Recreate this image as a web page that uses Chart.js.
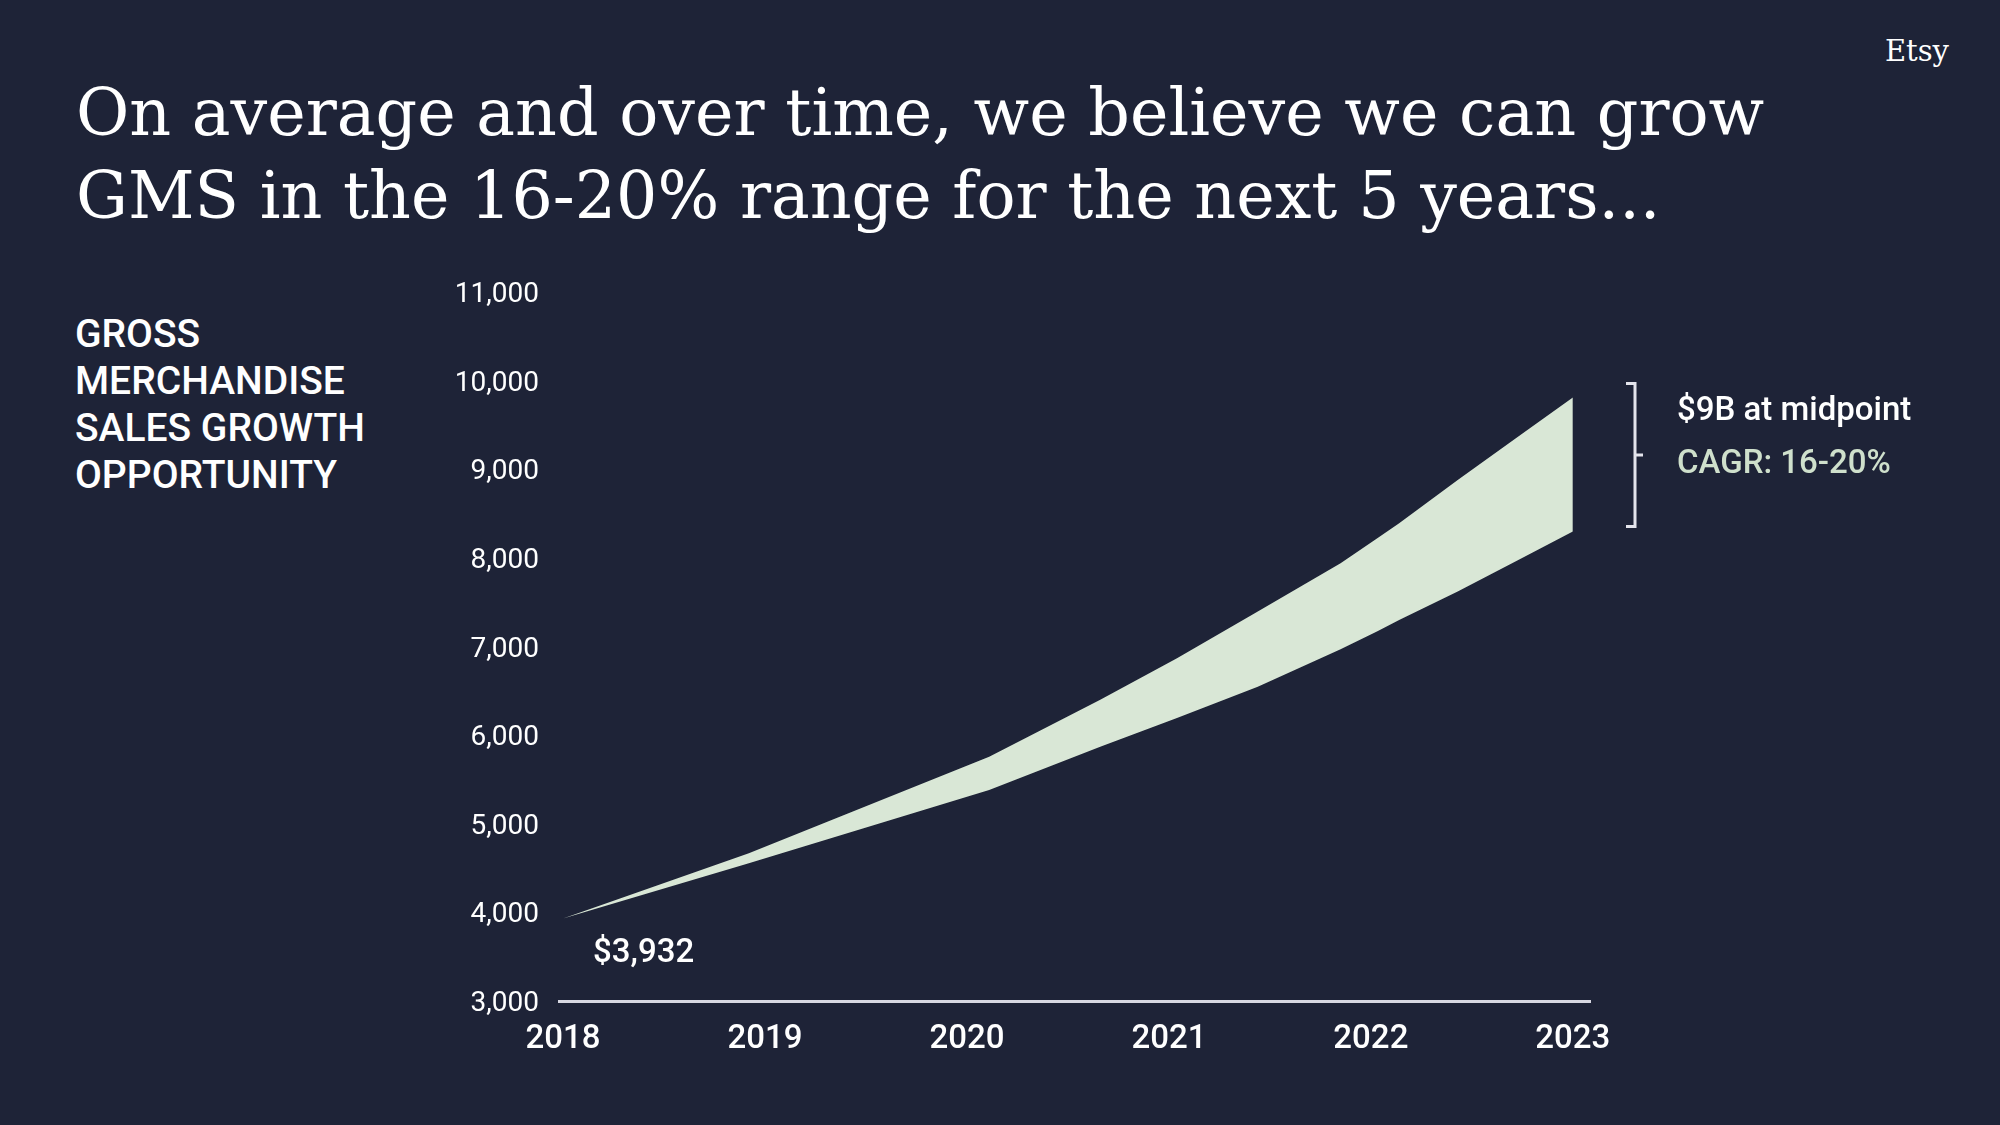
<!DOCTYPE html>
<html>
<head>
<meta charset="utf-8">
<script src="https://cdn.jsdelivr.net/npm/chart.js@4.4.1/dist/chart.umd.min.js"></script>
<style>
  html, body { margin: 0; padding: 0; background: #1e2337; width: 2000px; height: 1125px; overflow: hidden; }
  #wrap { position: relative; width: 2000px; height: 1125px; }
  #title { position: absolute; left: 76px; top: 71px; margin: 0; font-family: "DejaVu Serif"; font-weight: normal; font-size: 65px; line-height: 83px; color: #fff; white-space: nowrap; }
  #logo { position: absolute; right: 51px; top: 34px; font-family: "DejaVu Serif"; font-size: 29px; color: #fff; }
  #side { position: absolute; left: 75px; top: 311px; font-family: Roboto; font-weight: 500; font-size: 39px; line-height: 47px; color: #fff; }
  canvas { position: absolute; left: 0; top: 0; }
</style>
</head>
<body>
<div id="wrap">
  <div id="logo">Etsy</div>
  <h1 id="title">On average and over time, we believe we can grow<br>GMS in the 16-20% range for the next 5 years...</h1>
  <div id="side">GROSS<br>MERCHANDISE<br>SALES GROWTH<br>OPPORTUNITY</div>
  <canvas id="mycanvas" width="2000" height="1125"></canvas>
</div>
<script>
// x positions (years) where the band changes slope
var years = [2018, 2018.92, 2020.11, 2020.66, 2021.04, 2021.44, 2021.85, 2022.03, 2022.14, 2022.43, 2022.73, 2023];
var upperGms = [3932, 4667, 5757, 6400, 6868, 7394, 7940, 8218, 8391, 8880, 9369, 9809]; // 20% CAGR edge
var lowerGms = [3932, 4554, 5380, 5870, 6193, 6545, 6970, 7168, 7300, 7620, 7977, 8297]; // 16% CAGR edge
var yearTicks = [2018, 2019, 2020, 2021, 2022, 2023];
var gmsTicks = [3000, 4000, 5000, 6000, 7000, 8000, 9000, 10000, 11000];
var startLabel = '$3,932';
var noteTop = '$9B at midpoint';
var noteBottom = 'CAGR: 16-20%';

function pts(vals) {
  var out = [];
  for (var i in vals) {
    out.push({x: years[i], y: vals[i]});
  }
  return out;
}

// text + bracket next to the band
var notes = {
  id: 'notes',
  afterDatasetsDraw: function(chart) {
    var ctx = chart.ctx;
    var xs = chart.scales.x, ys = chart.scales.y;
    var last = years.length - 1;
    ctx.save();
    ctx.fillStyle = '#ffffff';
    ctx.font = '500 33px Roboto';
    ctx.textBaseline = 'middle';
    ctx.textAlign = 'left';
    ctx.fillText(startLabel, xs.getPixelForValue(years[0]) + 30, ys.getPixelForValue(upperGms[0]) + 35);

    var bx = chart.chartArea.right + 45;
    var top = ys.getPixelForValue(upperGms[last]) - 14;
    var bot = ys.getPixelForValue(lowerGms[last]) - 5;
    var mid = (top + bot) / 2;
    ctx.strokeStyle = '#e4e4ec';
    ctx.lineWidth = 3;
    ctx.beginPath();
    ctx.moveTo(bx - 9, top);
    ctx.lineTo(bx, top);
    ctx.lineTo(bx, bot);
    ctx.lineTo(bx - 9, bot);
    ctx.moveTo(bx, mid);
    ctx.lineTo(bx + 8, mid);
    ctx.stroke();

    ctx.font = '500 33px Roboto';
    ctx.fillStyle = '#ffffff';
    ctx.fillText(noteTop, bx + 42, mid - 43);
    ctx.fillStyle = '#cfe0cc';
    ctx.fillText(noteBottom, bx + 42, mid + 10);
    ctx.restore();
  }
};

var ctx = document.getElementById('mycanvas');

var chartdata = {
  datasets: [
    {
      label: 'High',
      data: pts(upperGms),
      borderWidth: 0,
      pointRadius: 0,
      tension: 0,
      backgroundColor: '#d9e7d6',
      fill: '+1'
    },
    {
      label: 'Low',
      data: pts(lowerGms),
      borderWidth: 0,
      pointRadius: 0,
      tension: 0,
      backgroundColor: '#d9e7d6',
      fill: false
    }
  ]
};

var gmsChart = new Chart(ctx, {
  type: 'line',
  data: chartdata,
  plugins: [notes],
  options: {
    responsive: false,
    animation: false,
    layout: { padding: { left: 400, top: 292, right: 410, bottom: 64 } },
    plugins: { legend: { display: false }, tooltip: { enabled: false } },
    scales: {
      x: {
        type: 'linear',
        min: 2017.98,
        max: 2023.085,
        afterBuildTicks: function(scale) {
          scale.ticks = yearTicks.map(function(v) { return {value: v}; });
        },
        afterFit: function(scale) { scale.height = 60; },
        grid: { display: false, drawTicks: false },
        border: { display: true, color: '#d8d8e2', width: 3 },
        ticks: {
          color: '#ffffff',
          font: { family: 'Roboto', size: 33, weight: '500' },
          padding: 19,
          maxRotation: 0,
          autoSkip: false,
          callback: function(v) { return String(v); }
        }
      },
      y: {
        min: 3000,
        max: 11000,
        afterBuildTicks: function(scale) {
          scale.ticks = gmsTicks.map(function(v) { return {value: v}; });
        },
        afterFit: function(scale) { scale.width = 159; },
        grid: { display: false, drawTicks: false },
        border: { display: false },
        ticks: {
          color: '#ffffff',
          font: { family: 'Roboto', size: 28 },
          padding: 20,
          labelOffset: 3,
          callback: function(v) { return v.toLocaleString('en-US'); }
        }
      }
    }
  }
});
</script>
</body>
</html>
